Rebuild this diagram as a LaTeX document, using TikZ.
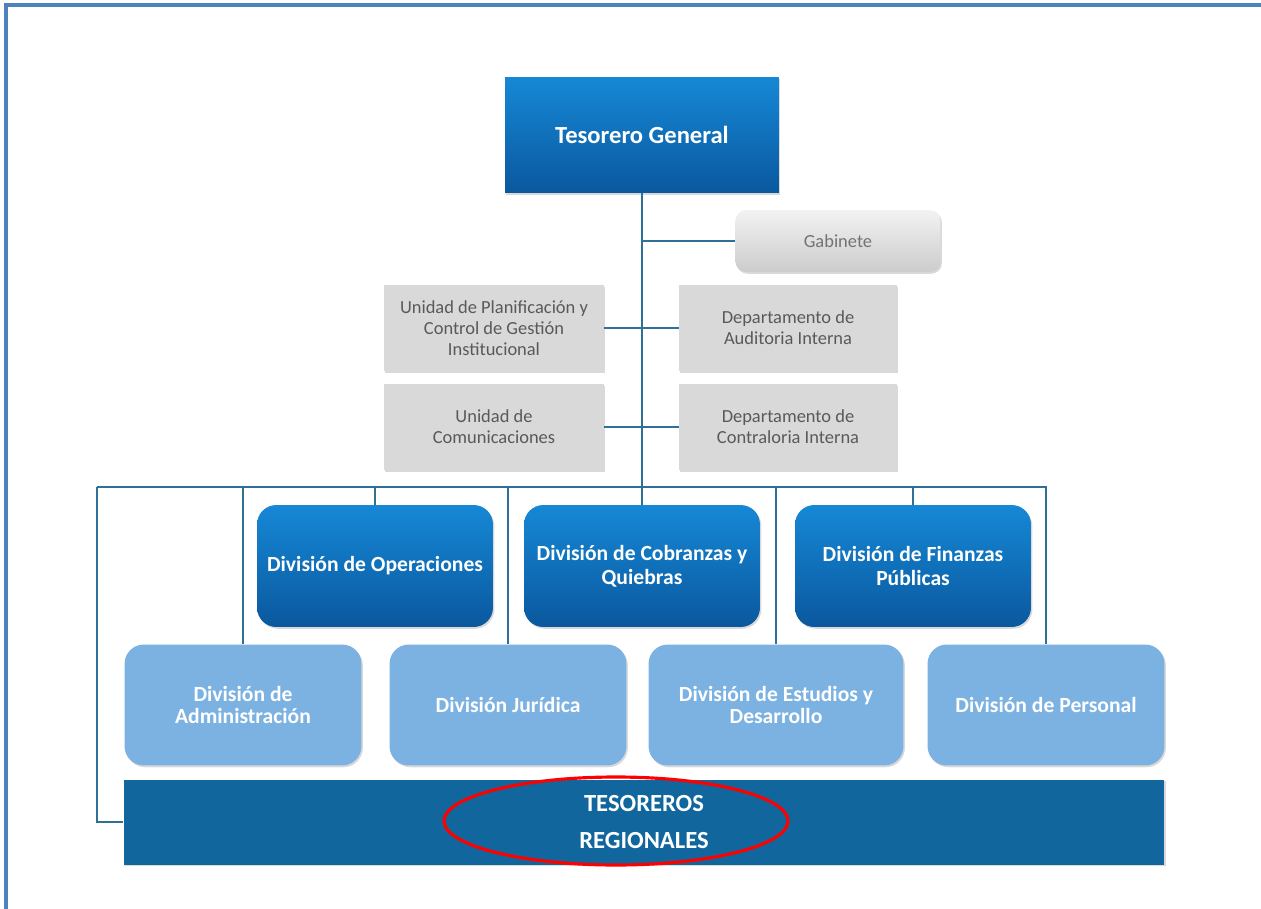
\documentclass[tikz,border=0pt]{standalone}
\usepackage{fontspec}
\setmainfont{Carlito}
\usepackage{tikz}
\usetikzlibrary{shapes.geometric,shadows}
\definecolor{framecol}{RGB}{79,129,189}
\definecolor{linkcol}{RGB}{46,112,150}
\definecolor{darktop}{RGB}{22,136,214}
\definecolor{darkbot}{RGB}{10,88,158}
\definecolor{lightbox}{RGB}{124,178,226}
\definecolor{regbox}{RGB}{17,102,158}
\definecolor{greybox}{RGB}{217,217,217}
\definecolor{greytext}{RGB}{89,89,89}

\begin{document}
\begin{tikzpicture}[x=0.02cm,y=-0.02cm]
    		\tikzstyle{link}=[draw=linkcol,line width=0.8pt]
    		\tikzstyle{unit}=[rectangle,inner sep=2pt,align=center,drop shadow={shadow xshift=0.8pt,shadow yshift=-1pt,opacity=0.3}]
    		\tikzstyle{head unit}=[unit,top color=darktop,bottom color=darkbot,text=white,font=\fontsize{14}{16}\selectfont\bfseries,minimum width=5.48cm,minimum height=2.32cm]
    		\tikzstyle{staff unit}=[unit,fill=greybox,text=greytext,font=\fontsize{10.5}{12}\selectfont,minimum width=4.4cm,minimum height=1.72cm]
    		\tikzstyle{cabinet unit}=[staff unit,top color=white!95!black,bottom color=white!80!black,fill=none,text=black!55,rounded corners=6pt,minimum width=4.1cm,minimum height=1.24cm]
    		\tikzstyle{main division}=[unit,rounded corners=11pt,top color=darktop,bottom color=darkbot,text=white,font=\fontsize{12.3}{13.6}\selectfont\bfseries,minimum width=4.72cm,minimum height=2.44cm]
    		\tikzstyle{support division}=[unit,rounded corners=11pt,fill=lightbox,text=white,font=\fontsize{12.3}{12.8}\selectfont\bfseries,minimum width=4.74cm,minimum height=2.42cm]
    		
    		\useasboundingbox (0,0) rectangle (1261,909);
    		\draw[framecol,line width=1.8pt] (6,909) -- (6,5) -- (1261,5);
    		
    		\node[head unit] (TG) at (642,135) {Tesorero General};
    		\node[cabinet unit] (Gab) at (838,241) {Gabinete};
    		\node[staff unit] (UPC) at (494,328) {Unidad de Planificaci\'on y\\Control de Gesti\'on\\Institucional};
    		\node[staff unit,minimum width=4.36cm] (DAI) at (788,328) {Departamento de\\Auditoria Interna};
    		\node[staff unit] (UC) at (494,427) {Unidad de\\Comunicaciones};
    		\node[staff unit,minimum width=4.36cm] (DCI) at (788,427) {Departamento de\\Contraloria Interna};
    		
    		\node[main division] (Ope) at (375,566) {Divisi\'on de Operaciones};
    		\node[main division] (Cob) at (642,566) {Divisi\'on de Cobranzas y\\Quiebras};
    		\node[main division] (Fin) at (913,566) {Divisi\'on de Finanzas\\P\'ublicas};
    		
    		\node[support division] (Adm) at (243,705) {Divisi\'on de\\Administraci\'on};
    		\node[support division] (Jur) at (508,705) {Divisi\'on Jur\'idica};
    		\node[support division,minimum width=5.1cm] (Est) at (776,705) {Divisi\'on de Estudios y\\Desarrollo};
    		\node[support division] (Per) at (1046,705) {Divisi\'on de Personal};
    		
    		\node[unit,fill=regbox,text=white,font=\fontsize{14}{21}\selectfont\bfseries,minimum width=20.82cm,minimum height=1.7cm] (Tes) at (644,822) {TESOREROS\\REGIONALES};
    		\node[ellipse,draw=red,line width=1.8pt,minimum width=6.88cm,minimum height=1.76cm] (ring) at (616,821) {};
    		
    		\coordinate (busL) at (97,487);
    		\coordinate (busR) at (1047,487);
    		\draw[link] (TG.south) -- (Cob.north);
    		\draw[link] (Gab.west) -- (Gab.west -| TG.south);
    		\draw[link] (UPC.east) -- (DAI.west);
    		\draw[link] (UC.east) -- (DCI.west);
    		\draw[link] (busL) -- (busR);
    		\draw[link] (busL) |- (Tes.west);
    		\draw[link] (Ope.north) -- (Ope.north |- busL);
    		\draw[link] (Fin.north) -- (Fin.north |- busL);
    		\draw[link] (Adm.north) -- (Adm.north |- busL);
    		\draw[link] (Jur.north) -- (Jur.north |- busL);
    		\draw[link] (Est.north) -- (Est.north |- busL);
    		\draw[link] (Per.north) -- (Per.north |- busL);
    		
    	\end{tikzpicture}
\end{document}
